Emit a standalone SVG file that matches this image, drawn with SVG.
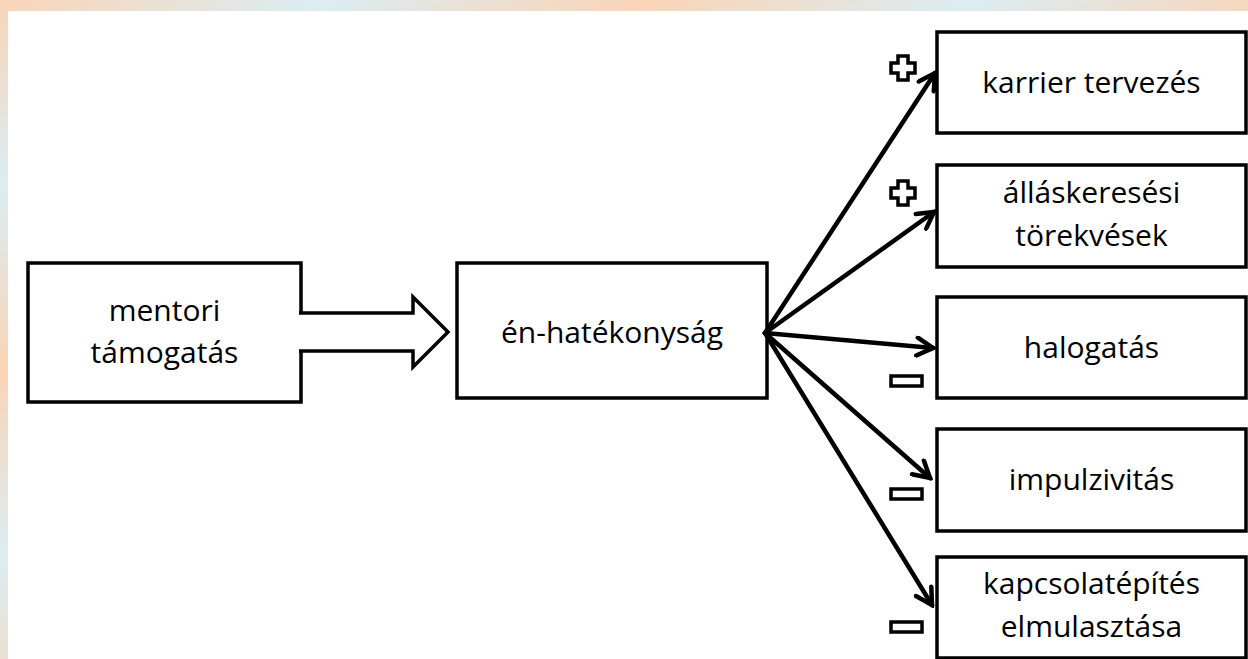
<svg xmlns="http://www.w3.org/2000/svg" width="1248" height="659" viewBox="0 0 1248 659">
  <defs>
    <linearGradient id="bg" gradientUnits="userSpaceOnUse" x1="0" y1="0" x2="80" y2="140" spreadMethod="reflect">
      <stop offset="0" stop-color="#fad4b6"/>
      <stop offset="1" stop-color="#dbedf3"/>
    </linearGradient>
    <marker id="head" viewBox="0 0 22 22" refX="19" refY="11" markerWidth="22" markerHeight="22" markerUnits="userSpaceOnUse" orient="auto">
      <path d="M3,2 L19,11 L3,20" fill="none" stroke="#000" stroke-width="4.5" stroke-linecap="round" stroke-linejoin="miter"/>
    </marker>
  </defs>
  <style>
    .box { fill: #fff; stroke: #000; stroke-width: 3.5; }
    .lbl { font-family: "Open Sans", "Liberation Sans", sans-serif; font-size: 30px; fill: #000; text-anchor: middle; }
    .link { fill: none; stroke: #000; stroke-width: 4.5; stroke-linecap: round; marker-end: url(#head); }
    .sign { fill: #fff; stroke: #000; stroke-width: 3.5; }
  </style>

  <!-- slide background with frame -->
  <rect x="0" y="0" width="1248" height="659" fill="url(#bg)"/>
  <rect x="8" y="11" width="1240" height="648" fill="#fff"/>

  <g id="node-mentori">
    <rect class="box" x="28" y="263" width="273" height="139"/>
    <text class="lbl" x="164.5" y="321">mentori</text>
    <text class="lbl" x="164.5" y="363">támogatás</text>
  </g>

  <g id="block-arrow">
    <rect x="298" y="314" width="6" height="36" fill="#fff"/>
    <path d="M299,313 H413 V297 L448,332 L413,367 V351 H299" fill="#fff" stroke="#000" stroke-width="3.5" stroke-linejoin="miter"/>
  </g>

  <g id="node-en-hatekonysag">
    <rect class="box" x="457" y="263" width="310" height="135"/>
    <text class="lbl" x="612" y="343">én-hatékonyság</text>
  </g>

  <g id="node-karrier">
    <rect class="box" x="937" y="32" width="309" height="101"/>
    <text class="lbl" x="1091.5" y="93">karrier tervezés</text>
  </g>

  <g id="node-allaskeresesi">
    <rect class="box" x="937" y="165" width="309" height="102"/>
    <text class="lbl" x="1091.5" y="203">álláskeresési</text>
    <text class="lbl" x="1091.5" y="246">törekvések</text>
  </g>

  <g id="node-halogatas">
    <rect class="box" x="937" y="297" width="309" height="101"/>
    <text class="lbl" x="1091.5" y="358">halogatás</text>
  </g>

  <g id="node-impulzivitas">
    <rect class="box" x="937" y="429" width="309" height="102"/>
    <text class="lbl" x="1091.5" y="490">impulzivitás</text>
  </g>

  <g id="node-kapcsolatepites">
    <rect class="box" x="937" y="557" width="309" height="101"/>
    <text class="lbl" x="1091.5" y="594">kapcsolatépítés</text>
    <text class="lbl" x="1091.5" y="637">elmulasztása</text>
  </g>

  <g id="connectors">
    <line class="link" x1="765" y1="333" x2="935" y2="73"/>
    <line class="link" x1="765" y1="333" x2="934" y2="212"/>
    <line class="link" x1="765" y1="333" x2="933" y2="348"/>
    <line class="link" x1="765" y1="333" x2="930" y2="478"/>
    <line class="link" x1="765" y1="333" x2="932" y2="605"/>
  </g>

  <g id="signs">
    <path class="sign" d="M898,56 h10 v7 h7 v10 h-7 v7 h-10 v-7 h-7 v-10 h7 z"/>
    <path class="sign" d="M898,181 h10 v7 h7 v10 h-7 v7 h-10 v-7 h-7 v-10 h7 z"/>
    <rect class="sign" x="891" y="376" width="31" height="10"/>
    <rect class="sign" x="891" y="489" width="31" height="10"/>
    <rect class="sign" x="891" y="622" width="31" height="10"/>
  </g>
</svg>
